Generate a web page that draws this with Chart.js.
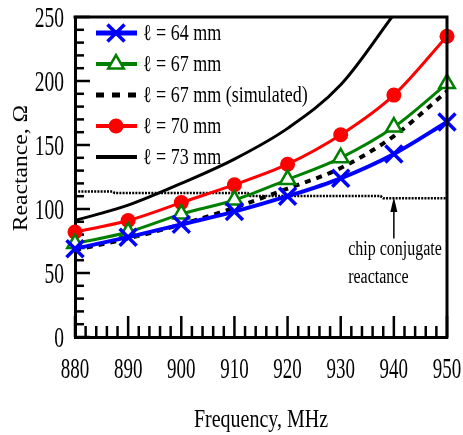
<!DOCTYPE html>
<html>
<head>
<meta charset="utf-8">
<script src="https://cdn.jsdelivr.net/npm/chart.js@4.4.0/dist/chart.umd.min.js"></script>
<style>
  html, body { margin: 0; padding: 0; background: #fff; }
</style>
</head>
<body>
<canvas id="reactance" width="463" height="435"></canvas>
<script>
// frequencies (MHz) and reactance (ohm)
var freqs = [880, 890, 900, 910, 920, 930, 940, 950];
var l64 = [69, 78, 88, 98, 110, 124, 143, 168];
var l67 = [73, 82, 96, 107, 123, 140, 164, 198];
var l67sim = [68, 77, 88, 101, 116, 132, 157, 192];
var l70 = [82, 91, 105, 119, 135, 158, 189, 235];
var l73 = [91, 103, 120, 139, 163, 197, 252];
var chipFreqs = [880, 887, 887.5, 912.5, 913, 937.5, 938, 950];
var chipReact = [113.7, 113.7, 112.5, 112.5, 110.2, 110.2, 108.4, 108.4];
var seriesLabels = ['ℓ = 64 mm', 'ℓ = 67 mm', 'ℓ = 67 mm (simulated)', 'ℓ = 70 mm', 'ℓ = 73 mm'];
var noteLines = ['chip conjugate', 'reactance'];
var xTitle = 'Frequency, MHz';
var yTitle = 'Reactance, Ω';

var serif = '"Liberation Serif", "Times New Roman", serif';

function pts(xs, ys) {
	return ys.map(function(v, i) { return {x: xs[i], y: v}; });
}

// the source figure is stretched vertically, so text is drawn scaled
function tallText(ctx, text, x, y, o) {
	ctx.save();
	ctx.translate(x, y);
	if (o.rotate) ctx.rotate(o.rotate);
	ctx.scale(o.sx || 1, o.sy || 1);
	ctx.font = o.size + 'px ' + serif;
	ctx.fillStyle = '#000';
	ctx.textAlign = o.align || 'left';
	ctx.textBaseline = 'alphabetic';
	ctx.fillText(text, 0, 0);
	ctx.restore();
}

// inward ticks, frame, tick labels and axis titles
var axesDeco = {
	id: 'axesDeco',
	beforeDatasetsDraw: function(chart) {
		var ctx = chart.ctx, a = chart.chartArea;
		var xs = chart.scales.x, ys = chart.scales.y;
		ctx.save();
		ctx.strokeStyle = '#000';
		ctx.lineWidth = 2.5;
		xs.ticks.forEach(function(t) {
			var px = xs.getPixelForValue(t.value);
			var len = t.value % 10 === 0 ? 21 : 11;
			ctx.beginPath();
			ctx.moveTo(px, a.bottom);
			ctx.lineTo(px, a.bottom - len);
			ctx.stroke();
		});
		ys.ticks.forEach(function(t) {
			var py = ys.getPixelForValue(t.value);
			var len = t.value % 50 === 0 ? 15 : 9;
			ctx.beginPath();
			ctx.moveTo(a.left, py);
			ctx.lineTo(a.left + len, py);
			ctx.stroke();
		});
		ctx.restore();
	},
	afterDraw: function(chart) {
		var ctx = chart.ctx, a = chart.chartArea;
		var xs = chart.scales.x, ys = chart.scales.y;
		ctx.save();
		ctx.strokeStyle = '#000';
		ctx.lineWidth = 3;
		ctx.beginPath();
		ctx.moveTo(a.left - 1.5, a.top);
		ctx.lineTo(a.right, a.top);
		ctx.lineTo(a.right, a.bottom + 1.5);
		ctx.stroke();
		ctx.restore();

		xs.ticks.forEach(function(t) {
			if (t.value % 10 !== 0) return;
			tallText(ctx, String(t.value), xs.getPixelForValue(t.value), a.bottom + 41,
				{size: 19, sy: 1.5, align: 'center'});
		});
		ys.ticks.forEach(function(t) {
			if (t.value % 50 !== 0) return;
			tallText(ctx, String(t.value), a.left - 11, ys.getPixelForValue(t.value) + 10,
				{size: 19.5, sy: 1.5, align: 'right'});
		});
		tallText(ctx, xTitle, (a.left + a.right) / 2, 427, {size: 20, sy: 1.3, align: 'center'});
		tallText(ctx, yTitle, 27, 168, {size: 20, sx: 1.18, align: 'center', rotate: -Math.PI / 2});
	}
};

// legend sitting inside the plot, line sample + marker
var insetLegend = {
	id: 'insetLegend',
	afterDraw: function(chart) {
		var ctx = chart.ctx;
		ctx.save();
		for (var i = 0; i < seriesLabels.length; i++) {
			var ds = chart.data.datasets[i];
			var y = 33 + i * 31;
			ctx.strokeStyle = ds.borderColor;
			ctx.lineWidth = ds.borderWidth + 1;
			ctx.setLineDash(ds.borderDash ? [8, 8] : []);
			ctx.beginPath();
			ctx.moveTo(96, y);
			ctx.lineTo(137, y);
			ctx.stroke();
			ctx.setLineDash([]);
			if (ds.pointRadius > 0) {
				ctx.strokeStyle = ds.borderColor;
				ctx.fillStyle = ds.pointBackgroundColor;
				ctx.lineWidth = ds.pointBorderWidth;
				Chart.helpers.drawPoint(ctx, {
					pointStyle: ds.pointStyle,
					radius: ds.pointRadius,
					borderWidth: ds.pointBorderWidth,
					rotation: 0
				}, 116, y);
			}
			tallText(ctx, ds.label, 143, y + 7, {size: 18, sy: 1.25});
		}
		ctx.restore();
	}
};

// arrow + note for the chip conjugate reactance line
var chipNote = {
	id: 'chipNote',
	afterDatasetsDraw: function(chart) {
		var ctx = chart.ctx, xs = chart.scales.x, ys = chart.scales.y;
		var ax = xs.getPixelForValue(940);
		var tip = ys.getPixelForValue(109.4);
		var tail = ys.getPixelForValue(77);
		ctx.save();
		ctx.strokeStyle = '#000';
		ctx.fillStyle = '#000';
		ctx.lineWidth = 1.5;
		ctx.beginPath();
		ctx.moveTo(ax, tail);
		ctx.lineTo(ax, tip + 10);
		ctx.stroke();
		ctx.beginPath();
		ctx.moveTo(ax, tip);
		ctx.lineTo(ax - 3.5, tip + 15);
		ctx.lineTo(ax + 3.5, tip + 15);
		ctx.closePath();
		ctx.fill();
		ctx.restore();
		var tx = xs.getPixelForValue(931.4);
		tallText(ctx, noteLines[0], tx, 255, {size: 16, sy: 1.3});
		tallText(ctx, noteLines[1], tx, 283, {size: 16, sy: 1.3});
	}
};

var chart = new Chart(document.getElementById('reactance'), {
	type: 'line',
	data: {
		datasets: [
			{
				label: seriesLabels[0],
				data: pts(freqs, l64),
				borderColor: '#0000ff',
				borderWidth: 4,
				pointStyle: 'crossRot',
				pointRadius: 12,
				pointBorderWidth: 3.5,
				pointBackgroundColor: '#0000ff',
				pointBorderColor: '#0000ff',
				cubicInterpolationMode: 'monotone',
				clip: false
			},
			{
				label: seriesLabels[1],
				data: pts(freqs, l67),
				borderColor: '#008000',
				borderWidth: 3,
				pointStyle: 'triangle',
				pointRadius: 9,
				pointBorderWidth: 2.5,
				pointBackgroundColor: '#ffffff',
				pointBorderColor: '#008000',
				cubicInterpolationMode: 'monotone',
				clip: false
			},
			{
				label: seriesLabels[2],
				data: pts(freqs, l67sim),
				borderColor: '#000000',
				borderWidth: 4,
				borderDash: [6, 6],
				pointRadius: 0,
				cubicInterpolationMode: 'monotone'
			},
			{
				label: seriesLabels[3],
				data: pts(freqs, l70),
				borderColor: '#ff0000',
				borderWidth: 3,
				pointStyle: 'circle',
				pointRadius: 7.5,
				pointBorderWidth: 0,
				pointBackgroundColor: '#ff0000',
				pointBorderColor: '#ff0000',
				cubicInterpolationMode: 'monotone',
				clip: false
			},
			{
				label: seriesLabels[4],
				data: pts(freqs, l73),
				borderColor: '#000000',
				borderWidth: 3,
				pointRadius: 0,
				cubicInterpolationMode: 'monotone',
				clip: 0
			},
			{
				label: 'chip conjugate reactance',
				data: pts(chipFreqs, chipReact),
				borderColor: '#000000',
				borderWidth: 2.5,
				borderDash: [2, 1.2],
				pointRadius: 0,
				tension: 0
			}
		]
	},
	options: {
		responsive: false,
		devicePixelRatio: 1,
		animation: false,
		layout: { padding: { top: 17, right: 16, left: 0, bottom: 0 } },
		plugins: {
			legend: { display: false },
			tooltip: { enabled: false }
		},
		scales: {
			x: {
				type: 'linear',
				min: 880,
				max: 950,
				afterFit: function(s) { s.height = 98; },
				grid: { display: false },
				border: { display: true, color: '#000', width: 3 },
				ticks: { display: false, stepSize: 2, autoSkip: false },
				title: { display: false }
			},
			y: {
				min: 0,
				max: 250,
				afterFit: function(s) { s.width = 75; },
				grid: { display: false },
				border: { display: true, color: '#000', width: 3 },
				ticks: { display: false, stepSize: 10, autoSkip: false },
				title: { display: false }
			}
		}
	},
	plugins: [axesDeco, chipNote, insetLegend]
});
</script>
</body>
</html>
